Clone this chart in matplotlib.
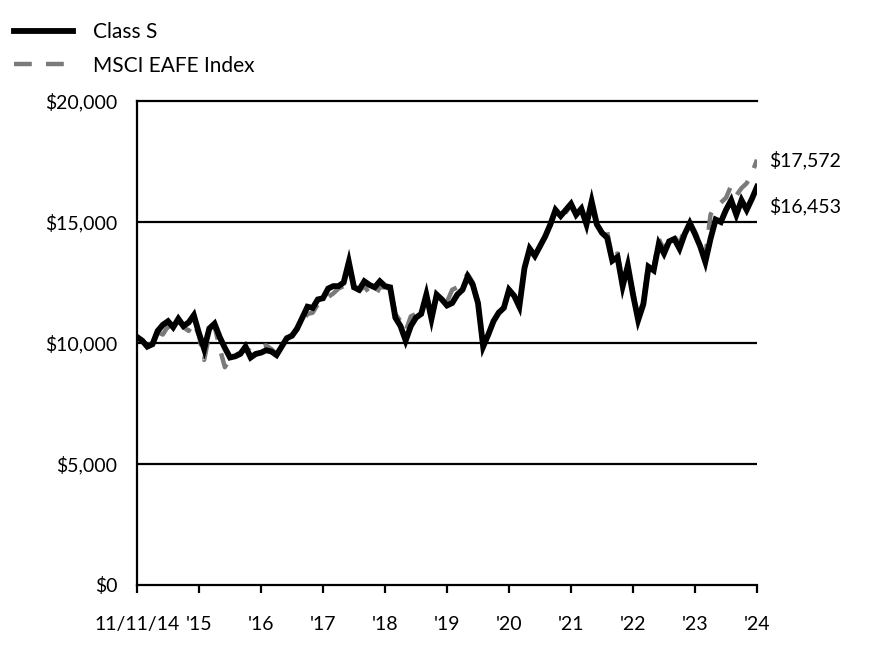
import matplotlib
matplotlib.use("Agg")
import matplotlib.pyplot as plt
import numpy as np

plt.rcParams['font.family'] = ['Lato', 'DejaVu Sans']

# ---- data (monthly, 11/11/14 .. 11/30/24) ----
class_s = [
    10250, 10100, 9850, 9950, 10500, 10750, 10900, 10650, 11000, 10700, 10850, 11150,
    10400, 9750, 10600, 10800, 10250, 9800, 9400, 9450, 9550, 9850, 9400, 9550,
    9600, 9700, 9650, 9500, 9850, 10200, 10300, 10600, 11050, 11500, 11450, 11800,
    11850, 12250, 12350, 12350, 12500, 13350, 12300, 12200, 12550, 12400, 12300, 12550,
    12350, 12300, 11050, 10700, 10100, 10700, 11050, 11200, 12000, 11000, 12000, 11800,
    11550, 11650, 12000, 12200, 12750, 12400, 11650, 9850, 10350, 10900, 11250, 11450,
    12200, 11950, 11500, 13100, 13900, 13600, 14000, 14400, 14900, 15500, 15250, 15500,
    15750, 15300, 15550, 14900, 15850, 14900, 14550, 14350, 13400, 13550, 12350, 13200,
    12000, 10950, 11600, 13150, 13000, 14100, 13700, 14200, 14300, 13900, 14500, 14950,
    14500, 14000, 13350, 14300, 15100, 15000, 15500, 15900, 15300, 15900, 15500, 15950,
    16453,
]
msci_eafe = [
    10250, 10100, 9900, 10000, 10450, 10350, 10700, 10500, 10900, 10650, 10500, 10850,
    10300, 9300, 10350, 10700, 9800, 9000, 9350, 9500, 9600, 9800, 9650, 9800,
    9850, 9900, 9750, 9550, 9850, 10200, 10300, 10550, 10900, 11200, 11250, 11600,
    11750, 11900, 12050, 12250, 12350, 13200, 12300, 12150, 12350, 12050, 11900, 12300,
    12300, 12250, 11200, 10900, 10500, 11100, 11200, 11300, 11900, 11100, 12000, 11750,
    11700, 12200, 12300, 12550, 12850, 12500, 11650, 9850, 10350, 10900, 11250, 11500,
    12150, 11900, 11550, 13050, 13850, 13600, 14000, 14400, 14850, 15450, 15150, 15400,
    15700, 15250, 15500, 14950, 15700, 15000, 14700, 14600, 13500, 13700, 12500, 13200,
    12100, 11100, 11700, 13300, 13100, 14300, 13850, 14400, 14400, 14100, 14700, 15000,
    14600, 14100, 13600, 15300, 15700, 15800, 16000, 16500, 16100, 16400, 16600, 17000,
    17572,
]
x_tick_labels = ["11/11/14", "'15", "'16", "'17", "'18", "'19", "'20", "'21", "'22", "'23", "'24"]
y_ticks = [0, 5000, 10000, 15000, 20000]
series_names = ["Class S", "MSCI EAFE Index"]

months = np.arange(len(class_s))

fig = plt.figure(figsize=(8.76, 6.72), dpi=100)
ax = fig.add_axes([137/876, 1-585/672, 620/876, 484/672])

gray = '#7a7a7a'
l2, = ax.plot(months, msci_eafe, color=gray, lw=3.2, dashes=(4, 3.2),
              solid_capstyle='butt', dash_capstyle='butt', zorder=3)
l1, = ax.plot(months, class_s, color='black', lw=4.2, solid_joinstyle='miter', zorder=4)

ax.set_xlim(0, 120)
ax.set_ylim(0, 20000)
ax.set_xticks(np.arange(0, 121, 12))
ax.set_xticklabels(x_tick_labels)
ax.set_yticks(y_ticks)
ax.set_yticklabels([f"${v:,.0f}" for v in y_ticks])

for g in [5000, 10000, 15000]:
    ax.axhline(g, color='black', lw=1.6, zorder=2)

ax.spines['right'].set_visible(False)
for s in ['left', 'bottom', 'top']:
    ax.spines[s].set_linewidth(1.6)
    ax.spines[s].set_color('black')

ax.tick_params(axis='y', length=0, pad=14, labelsize=14)
ax.tick_params(axis='x', length=6, width=1.6, direction='out', pad=16, labelsize=14)

# end labels
ax.annotate(f"${msci_eafe[-1]:,.0f}", xy=(120, msci_eafe[-1]), xytext=(9, 0),
            textcoords='offset points', va='center', ha='left', fontsize=14,
            annotation_clip=False)
ax.annotate(f"${class_s[-1]:,.0f}", xy=(120, class_s[-1]), xytext=(9, -14),
            textcoords='offset points', va='center', ha='left', fontsize=14,
            annotation_clip=False)

leg = ax.legend([l1, l2], series_names, loc='upper left',
                bbox_to_anchor=(14/876, 1-22/672), bbox_transform=fig.transFigure,
                frameon=False, fontsize=15, handlelength=2.85, handletextpad=0.96,
                labelspacing=0.65, borderpad=0, borderaxespad=0)

fig.savefig("out.png", dpi=100)
